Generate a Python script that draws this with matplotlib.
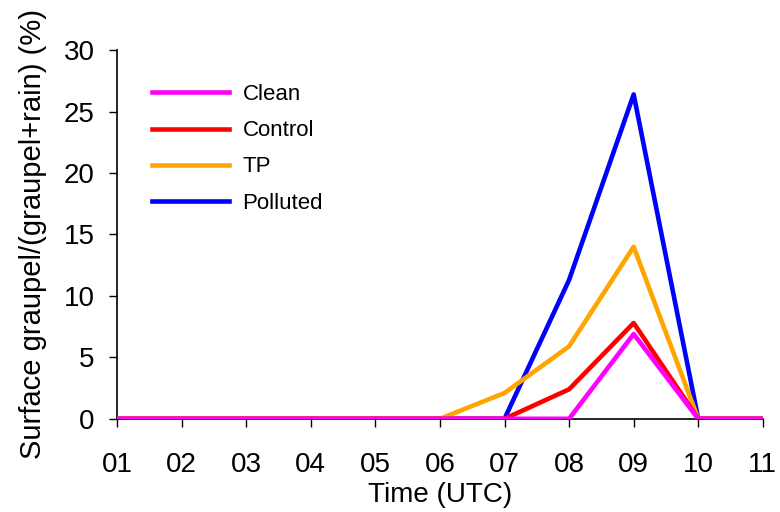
import matplotlib
matplotlib.use('Agg')
import matplotlib.pyplot as plt

plt.rcParams['font.family'] = ['Liberation Sans', 'DejaVu Sans']

############# data ##############
hours = [1, 2, 3, 4, 5, 6, 7, 8, 9, 10, 11]
hour_labels = ['01', '02', '03', '04', '05', '06', '07', '08', '09', '10', '11']
clean = [0, 0, 0, 0, 0, 0, 0, 0, 6.9, 0, 0]
control = [0, 0, 0, 0, 0, 0, 0, 2.4, 7.8, 0, 0]
tp = [0, 0, 0, 0, 0, 0, 2.1, 5.9, 14.0, 0, 0]
polluted = [0, 0, 0, 0, 0, 0, 0, 11.3, 26.4, 0, 0]

fig = plt.figure(figsize=(7.8, 5.12), dpi=100)
ax = fig.add_axes([0.15, 0.182, 0.828, 0.72])

# drawn back to front so Clean sits on top along zero
ax.plot(hours, polluted, color='#0000ff', lw=3.3, label='Polluted', zorder=3)
ax.plot(hours, tp, color='#ffa500', lw=3.3, label='TP', zorder=4)
ax.plot(hours, control, color='#ff0000', lw=3.3, label='Control', zorder=5)
ax.plot(hours, clean, color='#ff00ff', lw=3.3, label='Clean', zorder=6)

ax.set_xlim(1, 11)
ax.set_ylim(0, 30)
ax.set_xticks(hours)
ax.set_xticklabels(hour_labels)
ax.set_yticks([0, 5, 10, 15, 20, 25, 30])
ax.tick_params(labelsize=20, length=6, width=1, direction='out')
ax.tick_params(axis='x', pad=18)
ax.tick_params(axis='y', pad=10)
ax.spines['top'].set_visible(False)
ax.spines['right'].set_visible(False)
for s in ('left', 'bottom'):
    ax.spines[s].set_linewidth(1.2)

ax.set_xlabel('Time (UTC)', fontsize=20, labelpad=3)
ax.set_ylabel('Surface graupel/(graupel+rain) (%)', fontsize=21, labelpad=12)

handles, labels = ax.get_legend_handles_labels()
ax.legend(handles[::-1], labels[::-1], loc='upper left', bbox_to_anchor=(0.023, 0.962),
          frameon=False, fontsize=16, handlelength=3.45, handletextpad=0.63,
          labelspacing=0.68)

fig.savefig('out.png', dpi=100)
